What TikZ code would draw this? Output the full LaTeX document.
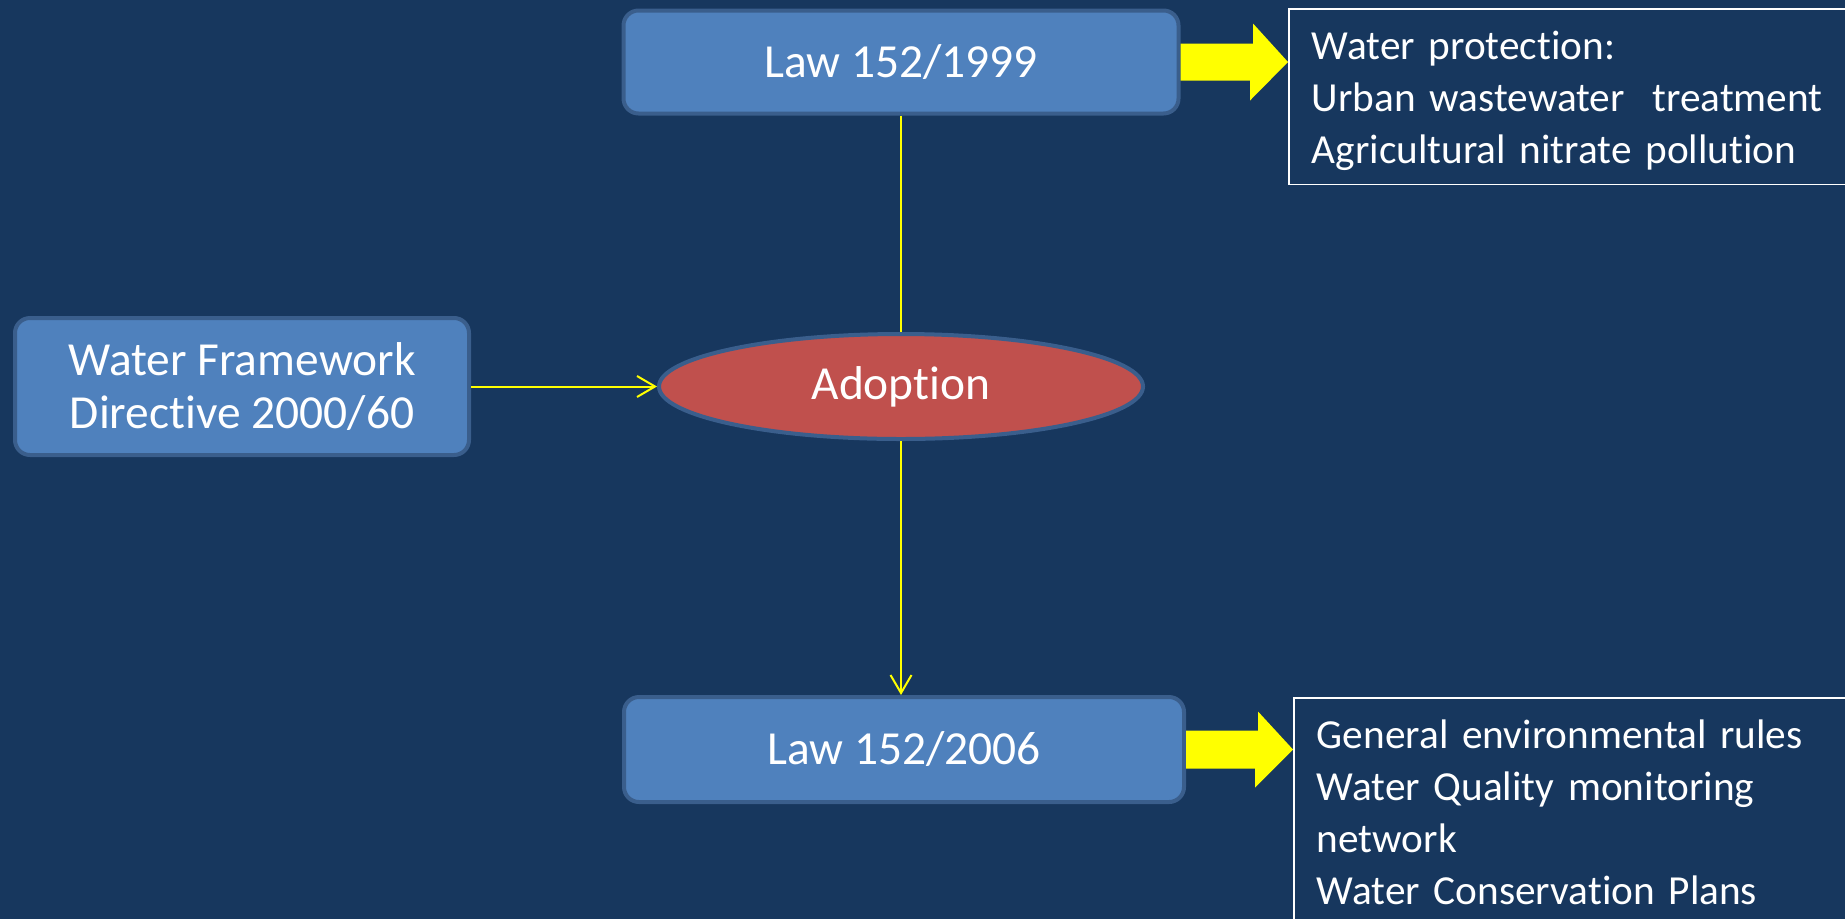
\documentclass[tikz,border=0pt]{standalone}
\usepackage{fontspec}
\setmainfont{Carlito}[Ligatures=NoCommon]
\usepackage{tikz}
\usetikzlibrary{shapes.geometric, arrows.meta}
\usetikzlibrary{positioning}
\definecolor{slidebg}{HTML}{17375E}
\definecolor{boxblue}{HTML}{4F81BD}
\definecolor{boxedge}{HTML}{3A5E8C}
\definecolor{ovalred}{HTML}{C0504D}
\definecolor{arrowyellow}{HTML}{FFFF00}
\tikzstyle{law} = [rectangle, rounded corners=0.3cm, draw=boxedge, line width=0.08cm, fill=boxblue, text=white, align=center, font=\fontsize{27}{30.7}\selectfont]
\tikzstyle{oval} = [ellipse, draw=boxedge, line width=0.08cm, fill=ovalred, text=white, minimum width=9.68cm, minimum height=2.1cm, inner sep=0pt, font=\fontsize{27}{30.7}\selectfont]
\tikzstyle{note} = [rectangle, draw=white, line width=0.035cm, text=white, anchor=north west, align=left, inner xsep=0.46cm, inner ysep=0.28cm, text width=10.9cm, font=\fontsize{23.5}{29.6}\selectfont]
\tikzstyle{link} = [arrowyellow, line width=0.04cm, -{Straight Barb[length=0.36cm,width=0.42cm]}]
\tikzstyle{bigarrow} = [fill=arrowyellow]

\begin{document}
\begin{tikzpicture}[node distance=6.49cm]
\useasboundingbox (0,0) rectangle (36.9,-18.38);
\fill [slidebg] (0,0) rectangle (36.9,-18.38);
\clip (0,0) rectangle (36.9,-18.38);
\node (adopt) [oval] at (18.02,-7.73) {Adoption};
\node (law99) [law, above of = adopt, minimum width=11.1cm, minimum height=2.06cm] {Law 152/1999};
\node (law06) [law, below of = adopt, node distance=7.26cm, xshift=0.06cm, minimum width=11.2cm, minimum height=2.1cm] {Law 152/2006};
\node (wfd) [law, left of = adopt, node distance=13.18cm, minimum width=9.08cm, minimum height=2.74cm] {Water Framework\\Directive 2000/60};
\node (box1) [note] at (25.76,-0.16) {\strut Water protection:\\Urban wastewater~ treatment\\Agricultural nitrate pollution};
\node (box2) [note] at (25.86,-13.94) {\strut General environmental rules\\Water Quality monitoring\\network\\Water Conservation Plans\strut};
\draw [link, -] (law99.south) -- (law99.south |- adopt.north);
\draw [link] (wfd) -- (adopt);
\draw [link] (adopt.south) -- (adopt.south |- law06.north);
\fill [bigarrow] ([yshift=0.37cm]law99.east) -- ++(1.45,0) -- ++(0,0.4) -- (law99.east -| box1.west) -- ++(-0.76,-0.77) -- ++(0,0.4) -- ([yshift=-0.37cm]law99.east) -- cycle;
\fill [bigarrow] ([yshift=0.38cm]law06.east) -- ++(1.44,0) -- ++(0,0.38) -- (law06.east -| box2.west) -- ++(-0.76,-0.76) -- ++(0,0.38) -- ([yshift=-0.38cm]law06.east) -- cycle;
\end{tikzpicture}
\end{document}
